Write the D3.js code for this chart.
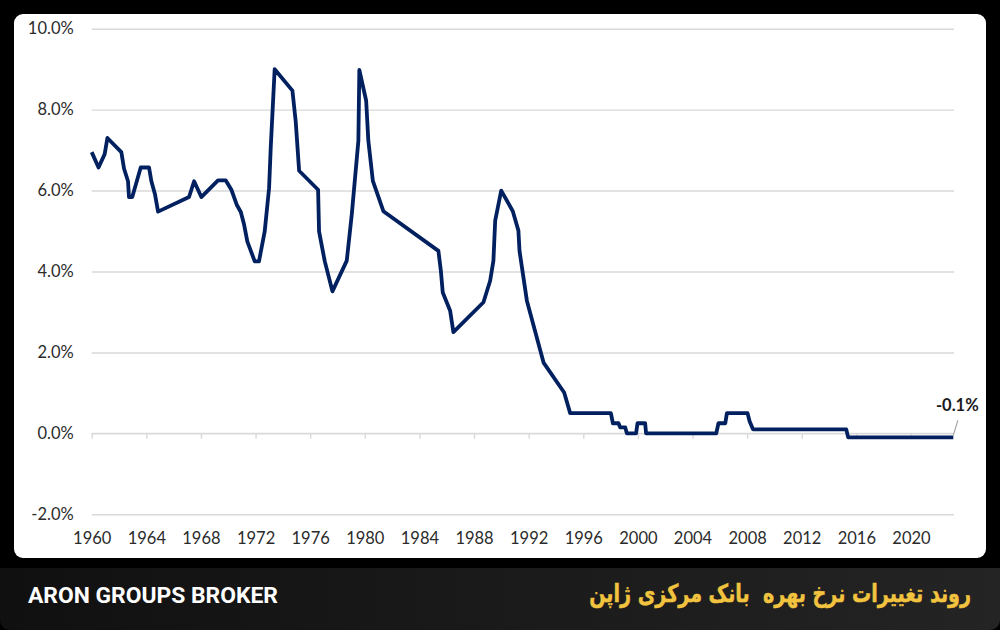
<!DOCTYPE html>
<html>
<head>
<meta charset="utf-8">
<script src="https://cdn.jsdelivr.net/npm/d3@7/dist/d3.min.js"></script>
<style>
  html, body { margin: 0; padding: 0; background: #000; }
  svg { display: block; }
</style>
</head>
<body>
<svg id="chart" width="1000" height="630"></svg>
<script>
// ---- data ----
const years = [
  1960.0, 1960.5, 1960.95, 1961.15, 1962.17, 1962.37, 1962.66, 1962.73, 1962.97, 1963.59,
  1964.2, 1964.37, 1964.64, 1964.86, 1967.13, 1967.5, 1968.03, 1969.25, 1969.82, 1970.23,
  1970.62, 1970.92, 1971.16, 1971.4, 1971.94, 1972.25, 1972.67, 1972.99, 1973.11, 1973.4,
  1974.7, 1974.94, 1975.19, 1976.58, 1976.65, 1977.07, 1977.63, 1978.68, 1979.05, 1979.53,
  1979.6, 1980.1, 1980.26, 1980.59, 1981.36, 1985.39, 1985.57, 1985.71, 1986.25, 1986.49,
  1988.69, 1989.18, 1989.42, 1989.55, 1989.99, 1990.84, 1991.25, 1991.33, 1991.87, 1993.09,
  1994.6, 1995.04, 1998.02, 1998.17, 1998.58, 1998.7, 1999.07, 1999.19, 1999.87, 1999.97,
  2000.53, 2000.6, 2005.74, 2005.9, 2006.4, 2006.52, 2008.03, 2008.18, 2008.43, 2015.26,
  2015.4, 2023.1
];
const rates = [
  6.95, 6.57, 6.90, 7.30, 6.95, 6.54, 6.23, 5.84, 5.84, 6.57,
  6.57, 6.23, 5.90, 5.48, 5.84, 6.23, 5.84, 6.25, 6.25, 6.02,
  5.65, 5.47, 5.16, 4.74, 4.25, 4.25, 4.99, 6.06, 7.05, 9.00,
  8.47, 7.71, 6.49, 6.02, 4.99, 4.25, 3.51, 4.27, 5.42, 7.23,
  8.98, 8.22, 7.23, 6.24, 5.49, 4.51, 4.02, 3.48, 3.03, 2.50,
  3.24, 3.77, 4.27, 5.26, 6.00, 5.49, 5.01, 4.51, 3.28, 1.75,
  1.01, 0.50, 0.50, 0.25, 0.25, 0.15, 0.15, 0.00, 0.00, 0.25,
  0.25, 0.00, 0.00, 0.25, 0.25, 0.50, 0.50, 0.30, 0.10, 0.10,
  -0.10, -0.10
];
const xTicks = [1960, 1964, 1968, 1972, 1976, 1980, 1984, 1988, 1992, 1996, 2000, 2004, 2008, 2012, 2016, 2020];
const yTicks = [-2, 0, 2, 4, 6, 8, 10];
const lastLabel = "-0.1%";
const brand = "ARON GROUPS BROKER";
const title = "روند تغییرات نرخ بهره  بانک مرکزی ژاپن";

// ---- drawing ----
const svg = d3.select("#chart");
const defs = svg.append("defs");
const grad = defs.append("linearGradient").attr("id", "barGrad")
  .attr("x1", "0").attr("x2", "1").attr("y1", "0").attr("y2", "0");
grad.append("stop").attr("offset", "0%").attr("stop-color", "#101010");
grad.append("stop").attr("offset", "100%").attr("stop-color", "#242424");

svg.append("rect").attr("width", 1000).attr("height", 630).attr("fill", "#000");
// bottom bar
svg.append("rect").attr("x", 0).attr("y", 568).attr("width", 1000).attr("height", 62)
  .attr("rx", 10).attr("fill", "url(#barGrad)");
svg.append("rect").attr("x", 0).attr("y", 568).attr("width", 1000).attr("height", 12)
  .attr("fill", "url(#barGrad)");
// white card
svg.append("rect").attr("x", 14).attr("y", 14).attr("width", 972).attr("height", 544)
  .attr("rx", 9).attr("fill", "#fff");

const x = d3.scaleLinear().domain([1960, 2023.15]).range([91.7, 954]);
const y = d3.scaleLinear().domain([-2, 10]).range([514.3, 28.7]);

// gridlines
const yAxis = d3.axisLeft(y).tickValues(yTicks).tickSize(-(954 - 91.7)).tickPadding(18)
  .tickFormat(d => d.toFixed(1) + "%");
const gy = svg.append("g").attr("transform", "translate(91.7,0)").call(yAxis);
gy.select(".domain").remove();
gy.selectAll(".tick line").attr("stroke", "#d9d9d9").attr("stroke-width", 1.4);
gy.selectAll(".tick text").attr("font-family", "Lato, sans-serif").attr("font-size", 16.5)
  .attr("fill", "#2b2b2b");

// x axis at 0%
const xAxis = d3.axisBottom(x).tickValues(xTicks).tickSize(5.5).tickPadding(96)
  .tickFormat(d3.format("d"));
const gx = svg.append("g").attr("transform", `translate(0,${y(0)})`).call(xAxis);
gx.select(".domain").attr("stroke", "#d9d9d9").attr("stroke-width", 1.4)
  .attr("d", `M${x.range()[0]},0H${x.range()[1]}`);
gx.selectAll(".tick line").attr("stroke", "#d9d9d9").attr("stroke-width", 1.4);
gx.selectAll(".tick text").attr("font-family", "Lato, sans-serif").attr("font-size", 16.5)
  .attr("fill", "#2b2b2b").attr("dy", 0).attr("y", 0)
  .attr("transform", `translate(0,${544 - y(0)})`);

// line
const pts = years.map((yr, i) => [yr, rates[i]]);
const line = d3.line().x(d => x(d[0])).y(d => y(d[1]));
svg.append("path").datum(pts).attr("d", line)
  .attr("fill", "none").attr("stroke", "#002060").attr("stroke-width", 3.8)
  .attr("stroke-linejoin", "round").attr("stroke-linecap", "butt");

// last value callout
const lx = x(years[years.length - 1]);
const ly = y(rates[rates.length - 1]);
svg.append("line").attr("x1", lx).attr("y1", ly - 2).attr("x2", lx + 4.5).attr("y2", ly - 17)
  .attr("stroke", "#a6a6a6").attr("stroke-width", 1.2);
svg.append("text").attr("x", lx + 4).attr("y", ly - 26).attr("text-anchor", "middle")
  .attr("font-family", "Lato, sans-serif").attr("font-weight", 700).attr("font-size", 16.5)
  .attr("fill", "#1a1a1a").text(lastLabel);

// footer texts
svg.append("text").attr("x", 28).attr("y", 603)
  .attr("font-family", "Roboto, sans-serif").attr("font-weight", 700).attr("font-size", 22)
  .attr("fill", "#fff").attr("textLength", 250).attr("lengthAdjust", "spacingAndGlyphs")
  .text(brand);

const tg = svg.append("g").attr("transform", "translate(971,602) scale(1,1.3)");
const t = tg.append("text").attr("x", 0).attr("y", 0).attr("text-anchor", "end")
  .attr("font-family", "'DejaVu Sans', sans-serif").attr("font-weight", 700).attr("font-size", 22)
  .attr("fill", "#f2c33f").attr("stroke", "#f2c33f").attr("stroke-width", 0.4)
  .style("white-space", "pre").text(title);
const w = t.node().getComputedTextLength();
if (w > 0) t.attr("font-size", Math.min(28, 22 * 382 / w));
</script>
</body>
</html>
